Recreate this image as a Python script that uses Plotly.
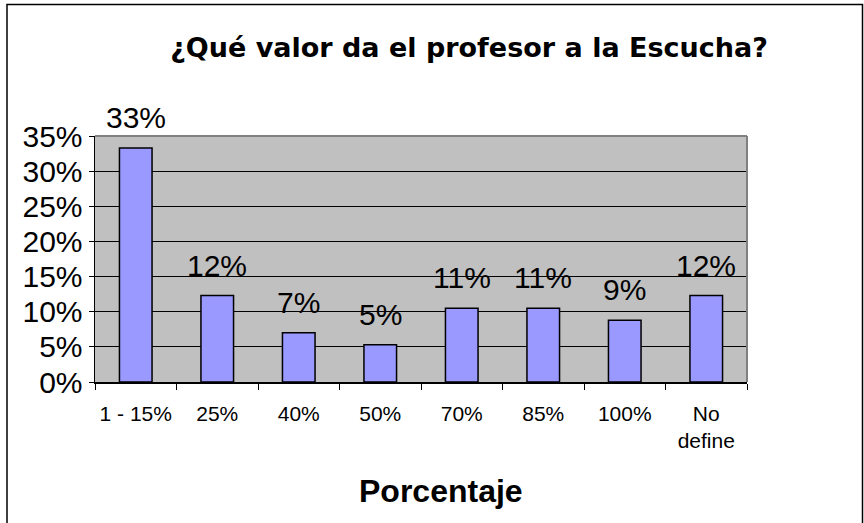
import plotly.graph_objects as go

categories = ["1 - 15%", "25%", "40%", "50%", "70%", "85%", "100%", "No<br>define"]
values = [33.3, 12.3, 7.0, 5.3, 10.5, 10.5, 8.8, 12.3]
labels = ["33%", "12%", "7%", "5%", "11%", "11%", "9%", "12%"]
y_ticks = [0, 5, 10, 15, 20, 25, 30, 35]
y_tick_text = ["0%", "5%", "10%", "15%", "20%", "25%", "30%", "35%"]

FONT = "Liberation Sans, Arial, sans-serif"

fig = go.Figure(
    go.Bar(
        x=categories,
        y=values,
        marker=dict(color="#9999FF", line=dict(color="black", width=1.5)),
        hoverinfo="skip",
    )
)

label_annotations = [
    dict(
        x=c, y=v, xref="x", yref="y", text=t,
        showarrow=False, xanchor="center", yanchor="bottom", yshift=12,
        font=dict(family=FONT, size=30, color="black"),
    )
    for c, v, t in zip(categories, values, labels)
]

fig.update_layout(
    width=864,
    height=523,
    margin=dict(l=95, r=117, t=136, b=141),
    paper_bgcolor="white",
    plot_bgcolor="#C0C0C0",
    bargap=0.6,
    showlegend=False,
    hovermode=False,
    font=dict(family=FONT, color="black"),
    title=dict(
        text="<b>¿Qué valor da el profesor a la Escucha?</b>",
        font=dict(family="DejaVu Sans, sans-serif", size=27, color="black"),
        x=469 / 864,
        xanchor="center",
        xref="container",
        y=1 - 48 / 523,
        yanchor="middle",
        yref="container",
    ),
    annotations=label_annotations + [
        dict(
            text="<b>Porcentaje</b>",
            x=(440.5 - 95) / 652,
            y=-(491 - 382) / 246,
            xref="paper",
            yref="paper",
            xanchor="center",
            yanchor="middle",
            showarrow=False,
            font=dict(family=FONT, size=32, color="black"),
        )
    ],
    shapes=[
        dict(type="line", xref="paper", yref="paper", x0=0, x1=1, y0=1, y1=1,
             line=dict(color="#808080", width=2)),
        dict(type="line", xref="paper", yref="paper", x0=1, x1=1, y0=0, y1=1,
             line=dict(color="#808080", width=2)),
        dict(type="rect", xref="paper", yref="paper",
             x0=(7 - 95) / 652, x1=(862.5 - 95) / 652,
             y0=-0.8, y1=(382 - 4.5) / 246,
             line=dict(color="black", width=1.5), fillcolor="rgba(0,0,0,0)"),
    ],
)

fig.update_xaxes(
    showline=True,
    linecolor="black",
    linewidth=1.5,
    ticks="outside",
    tickson="boundaries",
    ticklen=6,
    tickcolor="black",
    tickfont=dict(family=FONT, size=21, color="black"),
    ticklabelstandoff=12,
    showgrid=False,
    fixedrange=True,
)

fig.update_yaxes(
    range=[0, 35],
    tickvals=y_ticks,
    ticktext=y_tick_text,
    showline=True,
    linecolor="black",
    linewidth=1.5,
    ticks="outside",
    ticklen=5,
    tickcolor="black",
    tickfont=dict(family=FONT, size=30, color="black"),
    showgrid=True,
    gridcolor="black",
    gridwidth=1,
    zeroline=False,
    fixedrange=True,
)

fig.write_html(
    "out.html",
    config={"displayModeBar": False, "staticPlot": True},
    post_script="document.body.style.margin='0px';document.body.style.overflow='hidden';",
)
